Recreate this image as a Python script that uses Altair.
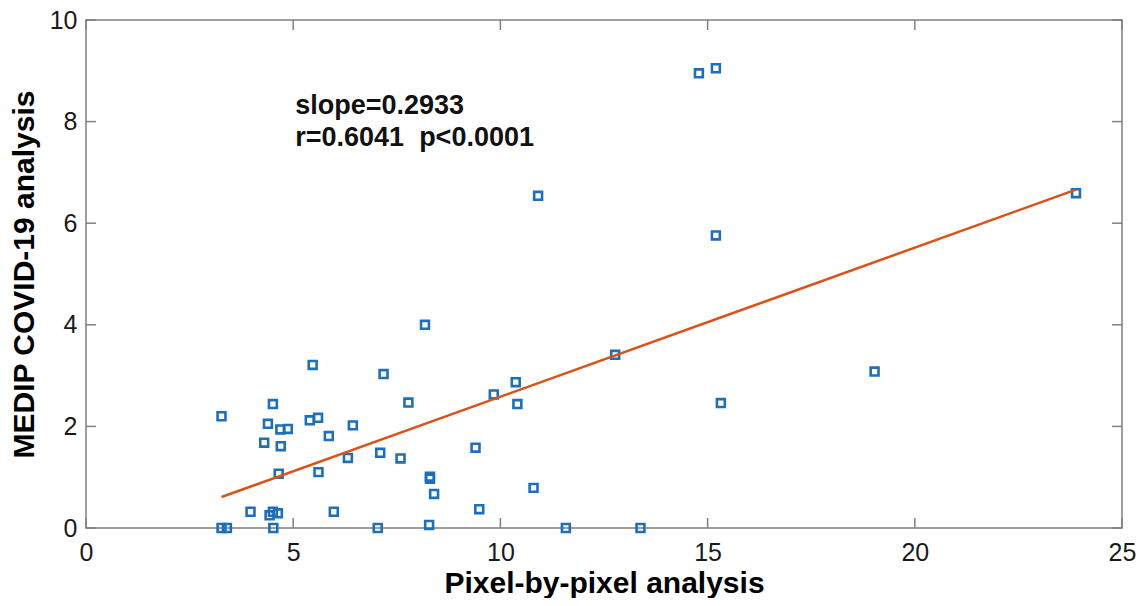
import altair as alt
import pandas as pd

# --- data ---
pixel_x = [3.27, 3.27, 3.40, 3.97, 4.30, 4.39, 4.51, 4.43, 4.51, 4.63,
           4.52, 4.69, 4.87, 4.70, 4.65, 5.40, 5.60, 5.47, 5.61, 5.86,
           5.98, 6.32, 6.44, 7.04, 7.10, 7.18, 7.59, 7.78, 8.18, 8.30,
           8.30, 8.40, 8.28, 9.40, 9.49, 9.84, 10.37, 10.41, 10.80, 10.91,
           11.58, 12.77, 13.38, 14.79, 15.20, 15.20, 15.32, 19.03, 23.89]
medip_y = [2.20, 0.00, 0.00, 0.32, 1.68, 2.05, 2.44, 0.25, 0.32, 0.29,
           0.00, 1.94, 1.95, 1.61, 1.07, 2.12, 2.17, 3.21, 1.10, 1.81,
           0.32, 1.38, 2.02, 0.00, 1.48, 3.03, 1.37, 2.47, 4.00, 1.01,
           0.97, 0.67, 0.06, 1.58, 0.37, 2.63, 2.87, 2.44, 0.79, 6.54,
           0.00, 3.41, 0.00, 8.95, 9.05, 5.76, 2.46, 3.08, 6.59]

fit_x = [3.27, 23.89]
fit_y = [0.61, 6.66]

note_lines = ["slope=0.2933", "r=0.6041\u00a0\u00a0p<0.0001"]
note_x = [5.05, 5.05]
note_y = [8.14, 7.51]

x_ticks = [0, 5, 10, 15, 20, 25]
y_ticks = [0, 2, 4, 6, 8, 10]

W, H = 1036, 508
FONT = "Liberation Sans"
BLUE = "#1f6fb8"
ORANGE = "#d95319"
GRAY = "#808080"

pts = pd.DataFrame({"x": pixel_x, "y": medip_y})
fit = pd.DataFrame({"x": fit_x, "y": fit_y})
notes = pd.DataFrame({"x": note_x, "y": note_y, "t": note_lines})
xt = pd.DataFrame({"x": x_ticks})
yt = pd.DataFrame({"y": y_ticks})

xs = alt.Scale(domain=[0, 25], nice=False)
ys = alt.Scale(domain=[0, 10], nice=False)

base_x = alt.X("x:Q", scale=xs, title="Pixel-by-pixel analysis",
               axis=alt.Axis(values=x_ticks, format="d", titleY=64,
                             titleBaseline="alphabetic"))
base_y = alt.Y("y:Q", scale=ys, title="MEDIP COVID-19 analysis",
               axis=alt.Axis(values=y_ticks, format="d"))

points = alt.Chart(pts).mark_point(
    shape="square", filled=False, color=BLUE, size=62, strokeWidth=2.6, opacity=1
).encode(x=base_x, y=base_y)

line = alt.Chart(fit).mark_line(color=ORANGE, strokeWidth=2.5).encode(
    x=alt.X("x:Q", scale=xs), y=alt.Y("y:Q", scale=ys))

text = alt.Chart(notes).mark_text(
    align="left", baseline="alphabetic", font=FONT, fontSize=27,
    fontWeight="bold", color="#111111"
).encode(x=alt.X("x:Q", scale=xs), y=alt.Y("y:Q", scale=ys), text="t:N")

TL = 10
xt_bottom = alt.Chart(xt).mark_rule(color=GRAY, strokeWidth=1.5).encode(
    x=alt.X("x:Q", scale=xs), y=alt.value(H), y2=alt.value(H - TL))
xt_top = alt.Chart(xt).mark_rule(color=GRAY, strokeWidth=1.5).encode(
    x=alt.X("x:Q", scale=xs), y=alt.value(0), y2=alt.value(TL))
yt_left = alt.Chart(yt).mark_rule(color=GRAY, strokeWidth=1.5).encode(
    y=alt.Y("y:Q", scale=ys), x=alt.value(0), x2=alt.value(TL))
yt_right = alt.Chart(yt).mark_rule(color=GRAY, strokeWidth=1.5).encode(
    y=alt.Y("y:Q", scale=ys), x=alt.value(W), x2=alt.value(W - TL))

chart = alt.layer(points, xt_bottom, xt_top, yt_left, yt_right, line, text).properties(
    width=W, height=H,
    autosize=alt.AutoSizeParams(type="none"),
    padding={"left": 78, "top": 12, "right": 14, "bottom": 70},
).configure_view(
    stroke=GRAY, strokeWidth=1.5
).configure_axis(
    grid=False, domain=False, ticks=False,
    labelFont=FONT, labelFontSize=25, labelColor="#1a1a1a",
    titleFont=FONT, titleFontSize=30, titleFontWeight="bold", titleColor="#000000",
    labelFlush=False, labelOverlap=False,
).configure_axisX(
    labelPadding=12
).configure_axisY(
    labelPadding=9, titlePadding=10
)

chart.save("out.html", embed_options={"renderer": "svg", "actions": False})
